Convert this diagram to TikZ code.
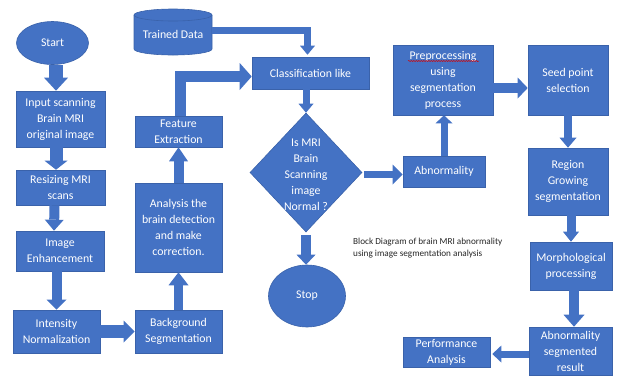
\documentclass[tikz,border=0pt]{standalone}
\usepackage{fontspec}
\setmainfont{Carlito}
\usetikzlibrary{arrows.meta,shapes.geometric,decorations.pathmorphing}
\definecolor{boxblue}{HTML}{4472C4}
\definecolor{boxedge}{HTML}{3A62AA}
\begin{document}
\begin{tikzpicture}[x=1pt,y=-1pt,
  box/.style={rectangle, draw=boxedge, fill=boxblue, line width=0.6pt, text=white,
    align=center, inner sep=0pt, font=\fontsize{11.8}{16}\selectfont},
  oval/.style={box, ellipse},
  diam/.style={box, diamond},
  plain/.style={text=white, align=center, inner sep=0pt, font=\fontsize{11.8}{16}\selectfont},
  barrow/.style n args={3}{draw=boxblue, line width=#1pt, line join=miter,
    -{Triangle[width=#2pt, length=#3pt, line width=0pt]}},
  captext/.style={text=black!85, align=left, inner sep=0pt, font=\fontsize{9.2}{12}\selectfont}
]
\useasboundingbox (0,0) rectangle (621,376);

% cylinder "Trained Data"
\path[fill=boxblue, draw=boxedge, line width=0.6pt]
  (134,15) -- (134,49) arc[start angle=180, end angle=0, x radius=39, y radius=6]
  -- (212,15) arc[start angle=0, end angle=-180, x radius=39, y radius=6] -- cycle;
\draw[boxedge, line width=0.6pt] (134,15) arc[start angle=180, end angle=0, x radius=39, y radius=6];
\node[plain, minimum width=78pt, minimum height=46pt, text height=16pt, text depth=0pt] (td) at (173,30) {Trained Data};

% nodes
\node[oval, minimum width=72pt, minimum height=43pt] (start) at (52.5,43) {Start};
\node[box, minimum width=89pt, minimum height=56pt] (input) at (60.5,119) {Input scanning\\Brain MRI\\original image};
\node[box, minimum width=89pt, minimum height=35pt] (resize) at (60.5,187.5) {Resizing MRI\\scans};
\node[box, minimum width=88pt, minimum height=40pt] (enh) at (60,251) {Image\\Enhancement};
\node[box, minimum width=87pt, minimum height=43pt] (intens) at (56.5,331.5) {Intensity\\Normalization};
\node[box, minimum width=87pt, minimum height=43pt] (backg) at (178.5,331.5) {Background\\Segmentation};
\node[box, minimum width=87pt, minimum height=89pt] (anal) at (178.5,227.5) {Analysis the\\brain detection\\and make\\correction.};
\node[box, minimum width=87pt, minimum height=31pt] (feat) at (178.5,131.5) {Feature\\Extraction};
\node[box, minimum width=117pt, minimum height=32pt] (class) at (310.5,73) {Classification like};
\node[diam, minimum width=112pt, minimum height=119pt] (dia) at (306,172.5) {};
\node[plain] (diatext) at (306,174.5) {Is MRI\\Brain\\Scanning\\image\\Normal ?};
\node[oval, minimum width=77pt, minimum height=62pt] (stop) at (307,296) {Stop};
\node[box, minimum width=82pt, minimum height=31pt] (abn) at (444,171.5) {Abnormality};
\node[box, minimum width=100pt, minimum height=70pt] (prep) at (443,80) {Preprocessing\\using\\segmentation\\process};
\node[box, minimum width=80pt, minimum height=70pt] (seed) at (568,80) {Seed point\\selection};
\node[box, minimum width=80pt, minimum height=67pt] (region) at (568,181.5) {Region\\Growing\\segmentation};
\node[box, minimum width=82pt, minimum height=48pt] (morph) at (571,266) {Morphological\\processing};
\node[box, minimum width=83pt, minimum height=48pt] (abseg) at (570.5,351) {Abnormality\\segmented\\result};
\node[box, minimum width=87pt, minimum height=30pt] (perf) at (446.5,352) {Performance\\Analysis};
\node[captext, anchor=north west] (cap) at (353,238) {Block Diagram of brain MRI abnormality\\using image segmentation analysis};

% spell-check underline
\draw[red!85!black, line width=0.5pt, decorate, decoration={snake, amplitude=0.6pt, segment length=2.5pt}]
  ([shift={(-35,-19)}]prep.center) -- ([shift={(36,-19)}]prep.center);

% connectors
\draw[barrow={14}{24}{13}] ([xshift=3.5pt]start.south) -- ([xshift=3.5pt]start.south |- input.north);
\draw[barrow={13}{23}{9}] ([xshift=-4.5pt]input.south) -- ([xshift=-4.5pt]resize.north);
\draw[barrow={10}{19}{11}] ([xshift=-6pt]resize.south) -- ([xshift=-6pt]enh.north);
\draw[barrow={10}{20}{10}] (intens.north |- enh.south) -- (intens.north);
\draw[barrow={13}{22}{11}] (intens) -- (backg);
\draw[barrow={9}{20}{13}] (backg) -- (anal);
\draw[barrow={10}{19}{14}] (anal) -- (feat);
\draw[barrow={11}{27}{12}] ([xshift=1.5pt]feat.north) |- ([yshift=-3.5pt]class.west);
\draw[barrow={7}{15}{9}, shorten >=2pt] (td.east) -| ([xshift=-3pt]class.north);
\draw[barrow={7}{15}{9}] (class.south -| dia.north) -- (dia.north);
\draw[barrow={7}{20}{10}, shorten <=2pt] ([yshift=-2pt]dia.east) -- ([yshift=-2pt]dia.east -| abn.west);
\draw[barrow={10}{19}{10}, shorten <=2.5pt] (dia.south) -- (dia.south |- stop.north);
\draw[barrow={7}{17}{8}] (abn.north) -- (abn.north |- prep.south);
\draw[barrow={10}{21}{10}] ([yshift=-8pt]prep.east) -- ([yshift=-8pt]seed.west);
\draw[barrow={8}{17}{10}] (seed) -- (region);
\draw[barrow={9}{16}{10}] (region.south -| morph.north) -- (morph.north);
\draw[barrow={10}{21}{12}] ([xshift=3pt]morph.south) -- ([xshift=3pt]morph.south |- abseg.north);
\draw[barrow={7}{17}{9}, shorten >=2pt] ([yshift=-3pt]abseg.west) -- ([yshift=-3pt]abseg.west -| perf.east);
\end{tikzpicture}
\end{document}
